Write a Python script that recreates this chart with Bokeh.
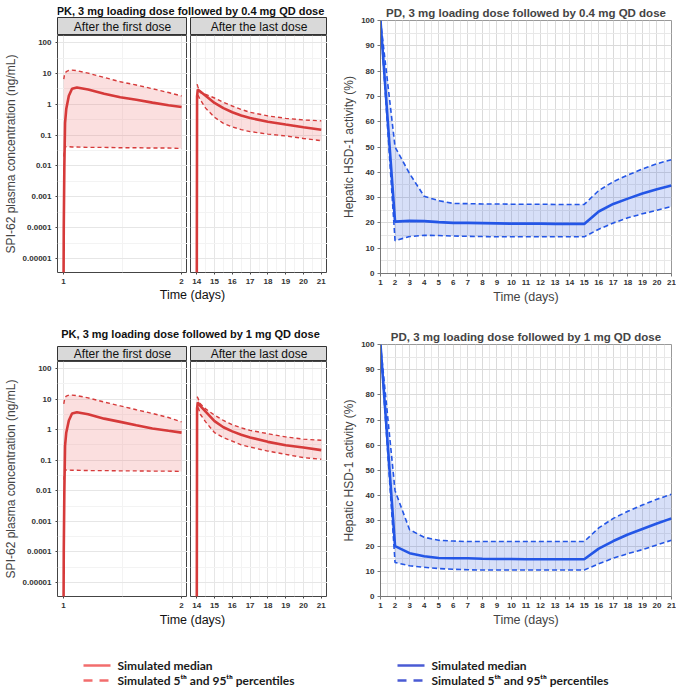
from bokeh.plotting import figure
from bokeh.layouts import row, column
from bokeh.models import Range1d, FixedTicker, NumeralTickFormatter, Label
from bokeh.embed import file_html
from bokeh.resources import INLINE

# ---------------- data ----------------
# PK, first dose facet (days 1-2)
pk_first_t = [1.0, 1.003, 1.008, 1.014, 1.024, 1.046, 1.073, 1.114, 1.209, 1.345, 1.481, 1.617, 1.753, 1.889, 2.0]
pk_first_band_t = [1.003, 1.008, 1.014, 1.024, 1.046, 1.073, 1.114, 1.209, 1.345, 1.481, 1.617, 1.753, 1.889, 2.0]
# PK, last dose facet (days 14-21)
pk_last_t = [14.0, 14.02, 14.06, 14.2, 14.5, 15.0, 15.5, 16.0, 16.5, 17.0, 18.0, 19.0, 20.0, 21.0]
pk_last_band_t = [14.02, 14.06, 14.2, 14.5, 15.0, 15.5, 16.0, 16.5, 17.0, 18.0, 19.0, 20.0, 21.0]

# 0.4 mg QD
pk04_first_med = [1e-7, 1e-4, 0.01, 0.25, 0.7, 1.9, 3.2, 3.5, 3.0, 2.2, 1.7, 1.4, 1.13, 0.93, 0.82]
pk04_first_lo = [0.02, 0.03, 0.04, 0.042, 0.042, 0.041, 0.041, 0.040, 0.040, 0.039, 0.039, 0.038, 0.038, 0.037]
pk04_first_hi = [6.5, 8.5, 10.0, 11.5, 12.5, 12.8, 12.3, 10.2, 7.4, 5.4, 4.2, 3.2, 2.4, 1.86]
pk04_last_med = [1e-7, 1.8, 3.0, 2.6, 1.9, 1.1, 0.75, 0.55, 0.43, 0.36, 0.27, 0.22, 0.18, 0.15]
pk04_last_lo = [1.2, 2.0, 1.4, 0.75, 0.38, 0.24, 0.185, 0.15, 0.13, 0.108, 0.094, 0.078, 0.066]
pk04_last_hi = [4.5, 3.8, 2.4, 2.1, 1.6, 1.15, 0.88, 0.68, 0.55, 0.42, 0.35, 0.31, 0.29]

# 1 mg QD
pk1_first_med = [1e-7, 1e-4, 0.01, 0.3, 0.8, 2.0, 3.4, 3.7, 3.2, 2.3, 1.8, 1.4, 1.1, 0.92, 0.8]
pk1_first_lo = [0.023, 0.035, 0.045, 0.048, 0.048, 0.047, 0.047, 0.046, 0.046, 0.045, 0.045, 0.044, 0.044, 0.043]
pk1_first_hi = [7.0, 9.0, 11.0, 12.5, 13.5, 13.5, 13.0, 11.0, 8.0, 6.0, 4.5, 3.4, 2.5, 1.8]
pk1_last_med = [1e-7, 5.0, 7.8, 6.0, 3.9, 1.9, 1.2, 0.88, 0.68, 0.56, 0.4, 0.31, 0.26, 0.215]
pk1_last_lo = [4.0, 6.0, 3.2, 1.8, 0.8, 0.55, 0.42, 0.32, 0.27, 0.2, 0.156, 0.122, 0.108]
pk1_last_hi = [12.0, 11.0, 7.0, 4.8, 3.0, 2.0, 1.45, 1.15, 0.95, 0.74, 0.58, 0.49, 0.45]

# PD, hepatic HSD-1 activity (%), days 1..21
days = list(range(1, 22))
pd04_med = [100, 20.5, 20.8, 20.7, 20.3, 20.0, 20.0, 19.9, 19.8, 19.7, 19.7, 19.7, 19.6, 19.6, 19.6,
            24.5, 27.5, 29.6, 31.6, 33.3, 34.8]
pd04_hi = [100, 50.0, 39.5, 30.5, 28.8, 27.7, 27.6, 27.5, 27.5, 27.4, 27.4, 27.4, 27.3, 27.3, 27.3,
           32.8, 36.3, 38.9, 41.3, 43.4, 45.0]
pd04_lo = [100, 13.0, 14.6, 15.1, 15.0, 14.8, 14.7, 14.6, 14.5, 14.5, 14.5, 14.5, 14.5, 14.5, 14.5,
           17.5, 20.0, 22.0, 23.6, 25.0, 26.5]
pd1_med = [100, 20.0, 17.2, 16.0, 15.3, 15.2, 15.2, 15.0, 14.9, 14.9, 14.8, 14.8, 14.8, 14.8, 14.8,
           19.0, 22.0, 24.6, 26.8, 29.0, 31.0]
pd1_hi = [100, 42.0, 26.5, 23.5, 22.3, 22.0, 21.8, 21.8, 21.8, 21.8, 21.8, 21.8, 21.8, 21.8, 21.8,
          27.2, 31.0, 33.8, 36.3, 38.6, 40.6]
pd1_lo = [100, 13.5, 12.2, 11.6, 11.1, 10.8, 10.6, 10.5, 10.5, 10.5, 10.5, 10.5, 10.5, 10.5, 10.5,
          13.0, 15.2, 17.0, 18.6, 20.5, 22.3]

pk_yticks = [1e-5, 1e-4, 1e-3, 1e-2, 1e-1, 1, 10, 100]
pk_yminor = [10 ** (k + 0.5) for k in range(-6, 3)]

legend_labels = ["Simulated median", "Simulated 5ᵗʰ and 95ᵗʰ percentiles"]

FONT = "Liberation Sans"
RED = "#d63a3a"
RED_FILL = "#f08080"
BLUE = "#2456e6"
BLUE_FILL = "#4a6fe0"
LEG_RED = "#f26d6d"
LEG_BLUE = "#4a5bd4"

PK_LEFT = 57


def text_fig(left, fw, fh, text, x, y, size, bold=True, right=0):
    p = figure(frame_width=fw, frame_height=fh, min_border_left=left, min_border_right=right,
               min_border_top=0, min_border_bottom=0, x_range=Range1d(0, 1), y_range=Range1d(0, 1),
               x_axis_location=None, y_axis_location=None, toolbar_location=None,
               output_backend="svg", outline_line_color=None)
    p.grid.visible = False
    p.add_layout(Label(x=x, y=y, text=text, text_align="center", text_baseline="middle",
                       text_font=FONT, text_font_size=size,
                       text_font_style="bold" if bold else "normal", text_color="#111111"))
    return p


def strip(left, fw, fh, text):
    p = text_fig(left, fw, fh, text, 0.5, 0.47, "12px", bold=False)
    p.background_fill_color = "#d9d9d9"
    p.outline_line_color = "#333333"
    return p


def pk_facet(left, fw, fh, xr, xticks, xminor, t, med, bt, lo, hi, with_y):
    p = figure(frame_width=fw, frame_height=fh, min_border_left=left, min_border_right=0,
               min_border_top=0, min_border_bottom=13, x_range=Range1d(*xr),
               y_range=Range1d(3.5e-6, 170), y_axis_type="log",
               y_axis_location="left" if with_y else None,
               toolbar_location=None, output_backend="svg", outline_line_color="#444444")
    p.varea(x=bt, y1=lo, y2=hi, fill_color=RED_FILL, fill_alpha=0.25)
    p.line(bt, lo, line_color=RED, line_width=1.4, line_dash="4 3")
    p.line(bt, hi, line_color=RED, line_width=1.4, line_dash="4 3")
    p.line(t, med, line_color=RED, line_width=2.6)

    xt = FixedTicker(ticks=xticks, minor_ticks=xminor)
    yt = FixedTicker(ticks=pk_yticks, minor_ticks=pk_yminor)
    p.xaxis.ticker = xt
    p.xgrid.ticker = xt
    p.ygrid.ticker = yt
    p.yaxis.ticker = yt
    p.yaxis.formatter = NumeralTickFormatter(format="0.[00000]")
    p.yaxis.axis_label = "SPI-62 plasma concentration (ng/mL)"
    p.yaxis.axis_label_text_font_size = "12px"
    p.yaxis.axis_label_text_font_style = "normal"
    p.yaxis.axis_label_standoff = 2
    for ax in p.axis:
        ax.axis_line_color = None
        ax.major_tick_out = 2
        ax.major_tick_in = 0
        ax.minor_tick_line_color = None
        ax.major_tick_line_color = "#444444"
        ax.major_label_standoff = 2
        ax.major_label_text_font = FONT
        ax.major_label_text_font_size = "8px"
        ax.major_label_text_font_style = "bold"
        ax.major_label_text_color = "#333333"
        ax.axis_label_text_font = FONT
    p.grid.grid_line_color = "#e6e6e6"
    p.grid.minor_grid_line_color = "#f3f3f3"
    return p


def pk_block(title, title_h, title_y, strip_h, frame_h, foot_h, foot_y,
             med_f, lo_f, hi_f, med_l, lo_l, hi_l):
    a = pk_facet(PK_LEFT, 130, frame_h, (0.95, 2.05), [1, 2], [1.5],
                 pk_first_t, med_f, pk_first_band_t, lo_f, hi_f, True)
    b = pk_facet(3, 137, frame_h, (13.65, 21.35), list(range(14, 22)),
                 [14.5 + i for i in range(7)], pk_last_t, med_l, pk_last_band_t, lo_l, hi_l, False)
    return column(
        text_fig(PK_LEFT, 270, title_h, title, 0.4926, title_y, "11px"),
        row(strip(PK_LEFT, 130, strip_h, "After the first dose"), strip(3, 137, strip_h, "After the last dose")),
        row(a, b),
        text_fig(PK_LEFT, 270, foot_h, "Time (days)", 0.5, foot_y, "12.5px", bold=False),
    )


def pd_fig(title, height, top, bottom, med, lo, hi):
    p = figure(width=349, height=height, min_border_left=53, min_border_right=5,
               min_border_top=top, min_border_bottom=bottom,
               x_range=Range1d(1, 21), y_range=Range1d(0, 100), title=title,
               toolbar_location=None, output_backend="svg", outline_line_color="#999999")
    p.title.align = "center"
    p.title.text_font = FONT
    p.title.text_font_size = "11.5px"
    p.title.text_font_style = "bold"
    p.title.standoff = 3
    p.title.offset = 0
    p.varea(x=days, y1=lo, y2=hi, fill_color=BLUE_FILL, fill_alpha=0.22)
    p.line(days, lo, line_color=BLUE, line_width=1.6, line_dash="5 3")
    p.line(days, hi, line_color=BLUE, line_width=1.6, line_dash="5 3")
    p.line(days, med, line_color=BLUE, line_width=2.6)

    xt = FixedTicker(ticks=days, minor_ticks=[d + 0.5 for d in days[:-1]])
    yt = FixedTicker(ticks=list(range(0, 101, 10)), minor_ticks=list(range(5, 100, 10)))
    p.xaxis.ticker = xt
    p.xgrid.ticker = xt
    p.yaxis.ticker = yt
    p.ygrid.ticker = yt
    p.xaxis.axis_label = "Time (days)"
    p.yaxis.axis_label = "Hepatic HSD-1 activity (%)"
    for ax in p.axis:
        ax.axis_line_color = "#777777"
        ax.major_tick_out = 3
        ax.major_tick_in = 0
        ax.minor_tick_line_color = None
        ax.major_tick_line_color = "#777777"
        ax.major_label_standoff = 2
        ax.major_label_text_font = FONT
        ax.major_label_text_font_size = "8px"
        ax.major_label_text_font_style = "bold"
        ax.major_label_text_color = "#333333"
        ax.axis_label_standoff = 2
        ax.axis_label_text_font = FONT
        ax.axis_label_text_font_size = "12px"
        ax.axis_label_text_font_style = "normal"
    p.xaxis.axis_label_text_font_size = "12.5px"
    p.grid.grid_line_color = "#dadada"
    p.grid.minor_grid_line_color = "#e8e8e8"
    return p


row1 = row(
    pk_block("PK, 3 mg loading dose followed by 0.4 mg QD dose", 17, 0.41, 18, 237, 25, 0.68,
             pk04_first_med, pk04_first_lo, pk04_first_hi, pk04_last_med, pk04_last_lo, pk04_last_hi),
    pd_fig("PD, 3 mg loading dose followed by 0.4 mg QD dose", 310, 20, 37, pd04_med, pd04_lo, pd04_hi),
)
row2 = row(
    pk_block("PK, 3 mg loading dose followed by 1 mg QD dose", 35, 0.343, 15, 235, 22, 0.59,
             pk1_first_med, pk1_first_lo, pk1_first_hi, pk1_last_med, pk1_last_lo, pk1_last_hi),
    pd_fig("PD, 3 mg loading dose followed by 1 mg QD dose", 320, 33, 35, pd1_med, pd1_lo, pd1_hi),
)

# legend strip: keys and labels placed in pixel-like coordinates of a blank figure
leg = figure(frame_width=676, frame_height=55, min_border=0, x_range=Range1d(0, 676), y_range=Range1d(55, 0),
             x_axis_location=None, y_axis_location=None, toolbar_location=None,
             output_backend="svg", outline_line_color=None)
leg.grid.visible = False
for x0, colr in ((83, LEG_RED), (397, LEG_BLUE)):
    leg.segment(x0=[x0], y0=[33], x1=[x0 + 27], y1=[33], line_color=colr, line_width=2.5)
    leg.segment(x0=[x0], y0=[48], x1=[x0 + 27], y1=[48], line_color=colr, line_width=2.5, line_dash="9 7")
    for lab, yy in zip(legend_labels, (33, 48)):
        leg.add_layout(Label(x=x0 + 34, y=yy, text=lab, text_baseline="middle", text_font="Lato",
                             text_font_size="12px", text_font_style="bold", text_color="#1a1a1a"))

p = column(row1, row2, leg)
open("out.html", "w").write(file_html(p, INLINE))
